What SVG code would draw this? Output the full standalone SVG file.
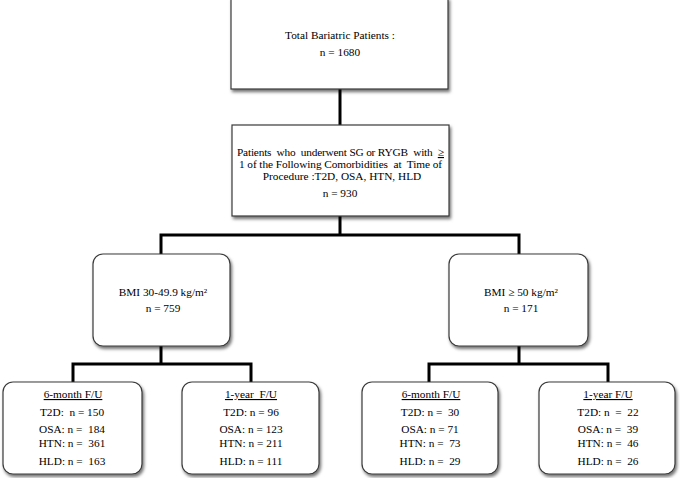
<svg xmlns="http://www.w3.org/2000/svg" width="680" height="478" viewBox="0 0 680 478" xml:space="preserve">
<defs>
<filter id="sh" x="-10%" y="-10%" width="130%" height="130%">
<feDropShadow dx="1.5" dy="2.5" stdDeviation="1.5" flood-color="#000" flood-opacity="0.55"/>
</filter>
<style>
.box{fill:#fff;stroke:#3a3a3a;stroke-width:1.2;filter:url(#sh)}
.t{font-family:"Liberation Serif","Times New Roman",serif;font-size:11.3px;fill:#000;text-anchor:middle;white-space:pre}
.tl{font-family:"Liberation Serif","Times New Roman",serif;font-size:11.3px;fill:#000;white-space:pre}
.u{text-decoration:underline}
.c{fill:none;stroke:#000;stroke-width:3}
</style>
</defs>
<rect width="680" height="478" fill="#fff"/>
<g id="connectors">
<path class="c" d="M340,89 V125"/>
<path class="c" d="M340,216 V235 M161,235 H519 M161,233.5 V254 M519,233.5 V254"/>
<path class="c" d="M161,346 V364 M73,364 H251 M73,362.5 V382 M251,362.5 V382"/>
<path class="c" d="M519,346 V364 M429,364 H608 M429,362.5 V382 M608,362.5 V382"/>
</g>
<g id="total">
<rect class="box" x="231" y="-2" width="217" height="91"/>
<text class="t" x="340" y="39">Total Bariatric Patients :</text>
<text class="t" x="340" y="56">n = 1680</text>
</g>
<g id="comorb">
<rect class="box" x="232" y="125" width="217" height="91"/>
<text class="tl" x="237" y="156" textLength="207" lengthAdjust="spacing">Patients  who  underwent SG or RYGB  with  <tspan class="u">≥</tspan></text>
<text class="tl" x="239" y="168" textLength="203" lengthAdjust="spacing">1 of the Following Comorbidities  at  Time of</text>
<text class="t" x="342" y="180">Procedure :T2D, OSA, HTN, HLD</text>
<text class="t" x="340" y="197">n = 930</text>
</g>
<g id="bmi1">
<rect class="box" x="93" y="254" width="137" height="92" rx="10"/>
<text class="t" x="163" y="296">BMI 30-49.9 kg/m²</text>
<text class="t" x="163" y="312">n = 759</text>
</g>
<g id="bmi2">
<rect class="box" x="449" y="254" width="139" height="92" rx="10"/>
<text class="t" x="521" y="296">BMI ≥ 50 kg/m²</text>
<text class="t" x="521" y="312">n = 171</text>
</g>
<g id="m6a">
<rect class="box" x="3" y="382" width="139" height="92" rx="10"/>
<text class="t u" x="73" y="398">6-month F/U</text>
<text class="t" x="72" y="416">T2D:  n = 150</text>
<text class="t" x="72" y="433">OSA: n =  184</text>
<text class="t" x="72" y="447">HTN: n =  361</text>
<text class="t" x="72" y="465">HLD: n =  163</text>
</g>
<g id="y1a">
<rect class="box" x="182" y="382" width="137" height="92" rx="10"/>
<text class="t u" x="251" y="398">1-year  F/U</text>
<text class="t" x="251" y="416">T2D: n = 96</text>
<text class="t" x="251" y="433">OSA: n = 123</text>
<text class="t" x="251" y="447">HTN: n = 211</text>
<text class="t" x="251" y="465">HLD: n = 111</text>
</g>
<g id="m6b">
<rect class="box" x="362" y="382" width="136" height="92" rx="10"/>
<text class="t u" x="431" y="398">6-month F/U</text>
<text class="t" x="430" y="416">T2D: n =  30</text>
<text class="t" x="430" y="433">OSA: n = 71</text>
<text class="t" x="430" y="447">HTN: n =  73</text>
<text class="t" x="430" y="465">HLD: n =  29</text>
</g>
<g id="y1b">
<rect class="box" x="539" y="382" width="136" height="92" rx="10"/>
<text class="t u" x="608" y="398">1-year F/U</text>
<text class="t" x="608" y="416">T2D: n  =  22</text>
<text class="t" x="608" y="433">OSA: n =  39</text>
<text class="t" x="608" y="447">HTN: n =  46</text>
<text class="t" x="608" y="465">HLD: n =  26</text>
</g>
</svg>
